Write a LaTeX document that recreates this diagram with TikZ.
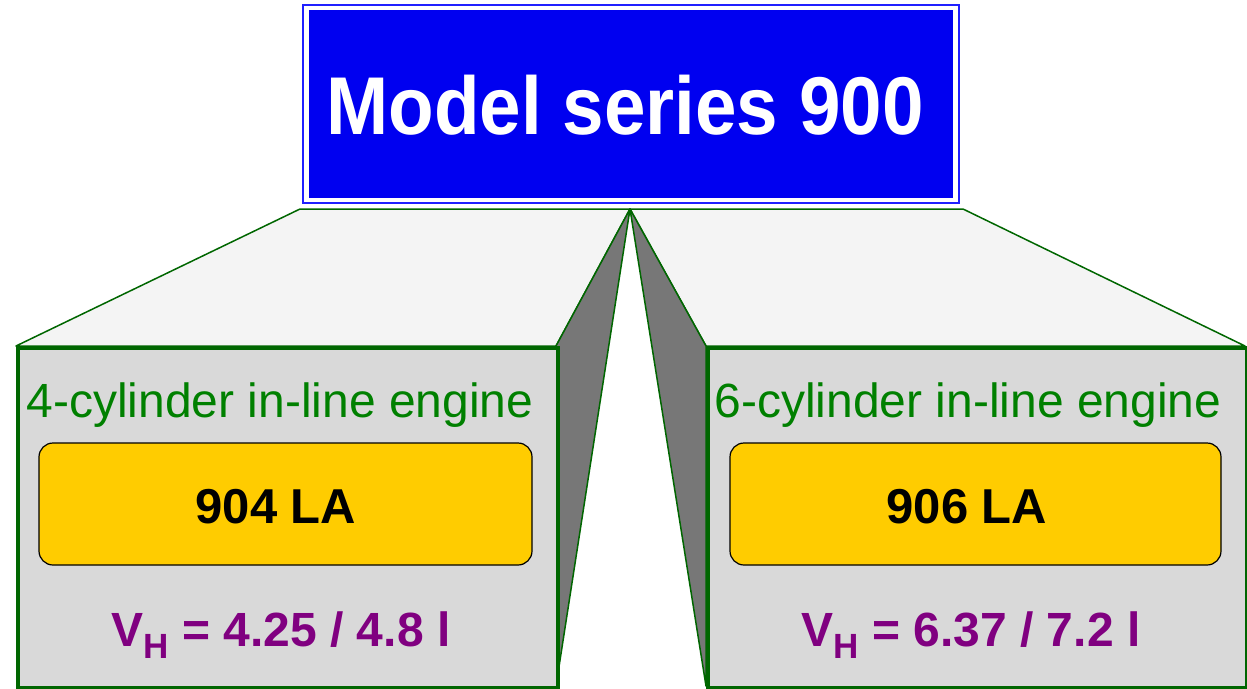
\documentclass[tikz,border=0pt]{standalone}
\usepackage{fontspec}
\setmainfont{Liberation Sans}
\definecolor{topblue}{HTML}{0000F0}
\definecolor{rimblue}{HTML}{2020FF}
\definecolor{edgegreen}{HTML}{006600}
\definecolor{txtgreen}{HTML}{008000}
\definecolor{lightface}{HTML}{F4F4F4}
\definecolor{sideface}{HTML}{777777}
\definecolor{frontface}{HTML}{D9D9D9}
\definecolor{plate}{HTML}{FFCC00}
\definecolor{vpurple}{HTML}{800080}
\tikzset{
  topface/.style={fill=lightface, draw=edgegreen, line width=1.5pt, line join=round},
  sidepoly/.style={fill=sideface, draw=edgegreen, line width=1.5pt, line join=round},
  frontbox/.style={fill=frontface, draw=edgegreen, line width=3.5pt},
  platebox/.style={fill=plate, draw=black, line width=1.2pt, rounded corners=14pt},
  enginetitle/.style={text=txtgreen, font=\fontsize{48}{48}\selectfont, anchor=base, inner sep=0pt},
  platetext/.style={font=\bfseries\fontsize{49}{49}\selectfont, anchor=base, inner sep=0pt},
  voltext/.style={text=vpurple, font=\bfseries\fontsize{48}{48}\selectfont, anchor=base, inner sep=0pt},
}
\newcommand{\subH}{\raisebox{-12pt}{\fontsize{35}{35}\selectfont H}}
\begin{document}
\begin{tikzpicture}[x=1pt,y=-1pt]
\useasboundingbox (0,0) rectangle (1247,688);
\fill[white] (0,0) rectangle (1247,688);
% key coordinates
\coordinate (apex) at (630,209);
\coordinate (bl) at (300,209);
\coordinate (br) at (963,209);
\coordinate (lfl) at (16,346);
\coordinate (lfr) at (556,346);
\coordinate (lbr) at (556,686);
\coordinate (rfl) at (706,346);
\coordinate (rfr) at (1245,346);
\coordinate (rbl) at (706,686);
% top faces
\draw[topface] (lfl) -- (bl) -- (apex) -- (lfr) -- cycle;
\draw[topface] (apex) -- (br) -- (rfr) -- (rfl) -- cycle;
% side faces
\draw[sidepoly] (lfr) -- (apex) -- (lbr) -- cycle;
\draw[sidepoly] (rfl) -- (apex) -- (rbl) -- cycle;
% front boxes
\node[frontbox, minimum width=540pt, minimum height=340pt, anchor=north west, inner sep=0pt] (leftbox) at (16,346) {};
\node[frontbox, minimum width=539pt, minimum height=340pt, anchor=north west, inner sep=0pt] (rightbox) at (706,346) {};
% top model box
\draw[rimblue, line width=1.3pt] (303,5) rectangle (959,203);
\node[fill=topblue, minimum width=644pt, minimum height=188pt, inner sep=0pt, anchor=north west] (model) at (309,10) {};
\node[text=white, font=\bfseries\fontsize{82}{82}\selectfont, anchor=base, inner sep=0pt] (modeltext) at (625,134) {\scalebox{0.91}[1]{Model series 900}};
% titles
\node[enginetitle] (t4) at (280,417) {4-cylinder in-line engine};
\node[enginetitle] (t6) at (968,417) {6-cylinder in-line engine};
% plates
\draw[platebox] (39,443) rectangle (532,565);
\draw[platebox] (730,443) rectangle (1221,565);
\node[platetext] (p904) at (276,523) {904 LA};
\node[platetext] (p906) at (967,523) {906 LA};
% volumes
\node[voltext] (v4) at (281,646) {V\subH{} = 4.25 / 4.8 l};
\node[voltext] (v6) at (971,646) {V\subH{} = 6.37 / 7.2 l};
\end{tikzpicture}
\end{document}
